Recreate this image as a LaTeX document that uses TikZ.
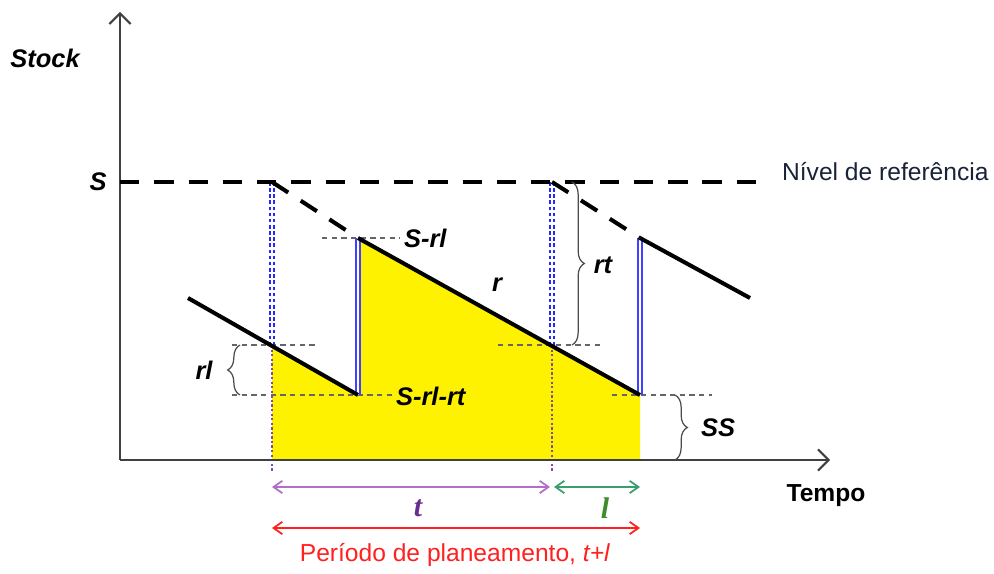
\documentclass[tikz,border=0pt]{standalone}
\usepackage{fontspec}
\setmainfont{Liberation Sans}
\newfontfamily\timesfont{Liberation Serif}
\usetikzlibrary{arrows.meta,decorations.pathreplacing,positioning}
\definecolor{tline}{HTML}{B070C8}
\definecolor{ttext}{HTML}{6A2C91}
\definecolor{lline}{HTML}{3A9E6E}
\definecolor{ltext}{HTML}{3D8B2A}
\definecolor{plan}{HTML}{FF2020}
\definecolor{refnavy}{HTML}{1A2238}

\begin{document}
\begin{tikzpicture}[x=0.02cm,y=-0.02cm,
  lbl/.style={font=\fontsize{14.5}{16}\selectfont\bfseries\itshape,inner sep=1pt},
  txt/.style={font=\fontsize{14}{16}\selectfont,inner sep=1pt},
  axis/.style={draw=black!75,line width=1.2pt,-{Straight Barb[length=6pt,width=12pt]}},
  saw/.style={line width=2.3pt},
  sref/.style={line width=2.3pt,dash pattern=on 11pt off 8.5pt},
  guide/.style={draw=black!60,line width=0.7pt,dash pattern=on 3pt off 2.5pt},
  order/.style={draw=blue!85,line width=1.2pt,dash pattern=on 2pt off 1.5pt,double=white,double distance=1.2pt},
  arrival/.style={draw=blue!75,line width=1.1pt,double=white,double distance=1pt},
  lead/.style={draw=ttext!85,line width=1.3pt,dash pattern=on 1.3pt off 1.3pt},
  brc/.style={decorate,decoration={brace,amplitude=7pt},draw=black!70,line width=0.7pt},
  span/.style={line width=1pt,{Straight Barb[length=5pt,width=7pt]}-{Straight Barb[length=5pt,width=7pt]}}
]
\useasboundingbox (0,0) rectangle (994,574);
\coordinate (O) at (120,460);
\coordinate (ytop) at (120,12);
\coordinate (xend) at (830,460);
\coordinate (S0) at (120,182);
\coordinate (Send) at (768,182);
\coordinate (a0) at (188,298);
\coordinate (o1) at (272,345);
\coordinate (o1S) at (272,182);
\coordinate (b1) at (358,395);
\coordinate (p1) at (358,238);
\coordinate (o2) at (552,345);
\coordinate (o2S) at (552,182);
\coordinate (b2) at (640,395);
\coordinate (p2) at (640,238);
\coordinate (a3) at (750,298);

\fill[yellow] (o1) -- (b1) -- (p1) -- (b2) -- (b2 |- O) -- (o1 |- O) -- cycle;

\draw[guide] (322,238) -- (400,238);
\draw[guide] (232,345) -- (315,345);
\draw[guide] (232,395) -- (392,395);
\draw[guide] (498,345) -- (600,345);
\draw[guide] (612,395) -- (712,395);

\draw[order] (o1S) -- (o1);
\draw[order] (o2S) -- (o2);
\draw[lead] (o1) -- (272,472);
\draw[lead] (o2) -- (552,472);
\draw[arrival] (b1) -- (p1);
\draw[arrival] (b2) -- (p2);

\draw[axis] (O) -- (ytop);
\draw[axis] (O) -- (xend);
\draw[sref] (S0) -- (Send);
\draw[sref] (o1S) -- (p1);
\draw[sref] (o2S) -- (p2);
\draw[saw,line join=round] (a0) -- (b1);
\draw[saw] (p1) -- (b2);
\draw[saw] (p2) -- (a3);

\draw[brc] (240,395) -- (240,345);
\draw[brc] (572,182) -- (572,345);
\draw[brc] (675,395) -- (675,460);

\node[lbl] (stock) at (45,58) {Stock};
\node[lbl] (slev) at (98,182) {S};
\node[txt,anchor=west,text=refnavy] (nivel) at (780,172) {Nível de referência};
\node[lbl,anchor=west] (srl) at (402,238) {S-rl};
\node[lbl,anchor=west] (srlrt) at (394,396) {S-rl-rt};
\node[lbl] (rate) at (497,285) {r};
\node[lbl] (rt) at (603,265) {rt};
\node[lbl] (rl) at (204,370) {rl};
\node[lbl] (ss) at (718,428) {SS};
\node[txt,font=\fontsize{14}{16}\selectfont\bfseries] (tempo) at (826,496) {Tempo};

\coordinate (t0) at (272,487);
\coordinate (t1) at (550,487);
\coordinate (l0) at (554,487);
\coordinate (l1) at (640,487);
\coordinate (p0) at (272,528);
\coordinate (pe) at (640,528);
\draw[span,draw=tline] (t0) -- (t1);
\draw[span,draw=lline] (l0) -- (l1);
\draw[span,draw=plan] (p0) -- (pe);
\node[font=\fontsize{17}{18}\timesfont\bfseries\itshape,text=ttext] (tlab) at (418,508) {t};
\node[font=\fontsize{17}{18}\timesfont\bfseries\itshape,text=ltext] (llab) at (605,508) {l};
\node[txt,text=plan] (period) at (455,555) {Período de planeamento, \textit{t+l}};
\end{tikzpicture}
\end{document}
